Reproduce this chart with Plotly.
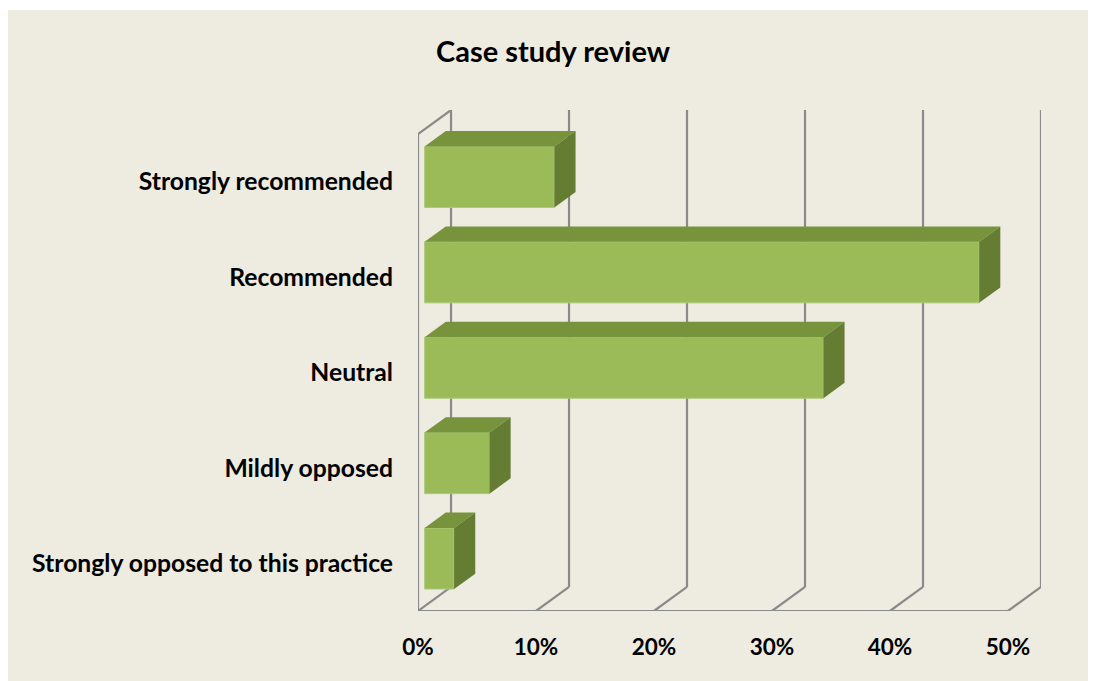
import plotly.graph_objects as go

# data, top to bottom as shown
categories = [
    "Strongly recommended",
    "Recommended",
    "Neutral",
    "Mildly opposed",
    "Strongly opposed to this practice",
]
shares = [11.0, 47.0, 33.8, 5.5, 2.5]
x_ticks = [0, 10, 20, 30, 40, 50]

BG = "#EEEBE0"
FRONT = "#9BBB59"
TOP = "#77933C"
SIDE = "#657D33"
GRID = "#8A8A8A"
FONT = "Lato"

# oblique depth vector (front plane -> back wall) in axis units
DX = 2.8
DY = 0.252
D0, D1 = 0.2, 0.84   # bar front / back depth
BAR_W = 0.64

cats = categories[::-1]
vals = shares[::-1]
ypos = list(range(len(cats)))
y_floor = -0.5
y_top = len(cats) - 0.5

fig = go.Figure()

# front faces
fig.add_trace(
    go.Bar(
        y=[p + D0 * DY for p in ypos],
        x=vals,
        base=[D0 * DX] * len(vals),
        orientation="h",
        width=BAR_W,
        marker=dict(color=FRONT, line=dict(color="#AFC97A", width=1)),
        hoverinfo="skip",
        showlegend=False,
    )
)

# top and side faces
bdx = (D1 - D0) * DX
bdy = (D1 - D0) * DY
for p, v in zip(ypos, vals):
    x0 = D0 * DX
    x1 = x0 + v
    yc = p + D0 * DY
    yt = yc + BAR_W / 2
    yb = yc - BAR_W / 2
    fig.add_trace(
        go.Scatter(
            x=[x0, x1, x1 + bdx, x0 + bdx, x0],
            y=[yt, yt, yt + bdy, yt + bdy, yt],
            fill="toself",
            fillcolor=TOP,
            mode="lines",
            line=dict(width=0),
            hoverinfo="skip",
            showlegend=False,
        )
    )
    fig.add_trace(
        go.Scatter(
            x=[x1, x1, x1 + bdx, x1 + bdx, x1],
            y=[yb, yt, yt + bdy, yb + bdy, yb],
            fill="toself",
            fillcolor=SIDE,
            mode="lines",
            line=dict(width=0),
            hoverinfo="skip",
            showlegend=False,
        )
    )

# walls / gridlines behind the bars
line = dict(color=GRID, width=2.2)
shapes = []
for t in x_ticks:
    shapes.append(dict(type="line", xref="x", yref="y", layer="below",
                       x0=t + DX, y0=y_floor + DY, x1=t + DX, y1=y_top + DY, line=line))
    shapes.append(dict(type="line", xref="x", yref="y", layer="below",
                       x0=t, y0=y_floor, x1=t + DX, y1=y_floor + DY, line=line))
shapes.append(dict(type="line", xref="x", yref="y", layer="below",
                   x0=0, y0=y_floor, x1=x_ticks[-1], y1=y_floor, line=line))
shapes.append(dict(type="line", xref="x", yref="y", layer="below",
                   x0=0, y0=y_floor, x1=0, y1=y_top, line=line))
shapes.append(dict(type="line", xref="x", yref="y", layer="below",
                   x0=0, y0=y_top, x1=DX, y1=y_top + DY, line=line))

# page body adds an 8px offset, so the figure is 8px smaller
W, H = 1088, 673
ml, mr, mt, mb = 410, 55, 102, 70
pw = W - ml - mr
ph = H - mt - mb

# chart area background
shapes.append(dict(type="rect", xref="paper", yref="paper", layer="below",
                   x0=-ml / pw - 0.01, y0=-mb / ph - 0.01,
                   x1=1 + mr / pw + 0.01, y1=(H - 2 - mb) / ph,
                   fillcolor=BG, line=dict(width=0)))

fig.update_layout(
    width=W,
    height=H,
    margin=dict(l=ml, r=mr, t=mt, b=mb),
    paper_bgcolor="white",
    plot_bgcolor="rgba(0,0,0,0)",
    shapes=shapes,
    showlegend=False,
    font=dict(family=FONT, color="black"),
    title=dict(
        text="<b>Case study review</b>",
        font=dict(size=29, family=FONT, color="black"),
        x=545 / W,
        xanchor="center",
        y=1 - 44 / H,
        yanchor="middle",
    ),
    xaxis=dict(
        range=[0, x_ticks[-1] + DX],
        tickvals=x_ticks,
        ticktext=[f"<b>{t}%</b>" for t in x_ticks],
        showgrid=False,
        zeroline=False,
        showline=False,
        ticks="",
        ticklabelstandoff=20,
        tickfont=dict(size=22.5),
    ),
    yaxis=dict(
        range=[y_floor, y_top + DY],
        tickvals=ypos,
        ticktext=[f"<b>{c}</b>" for c in cats],
        showgrid=False,
        zeroline=False,
        showline=False,
        ticks="",
        ticklabelstandoff=24,
        tickfont=dict(size=24.7),
    ),
)

fig.write_html("out.html")
